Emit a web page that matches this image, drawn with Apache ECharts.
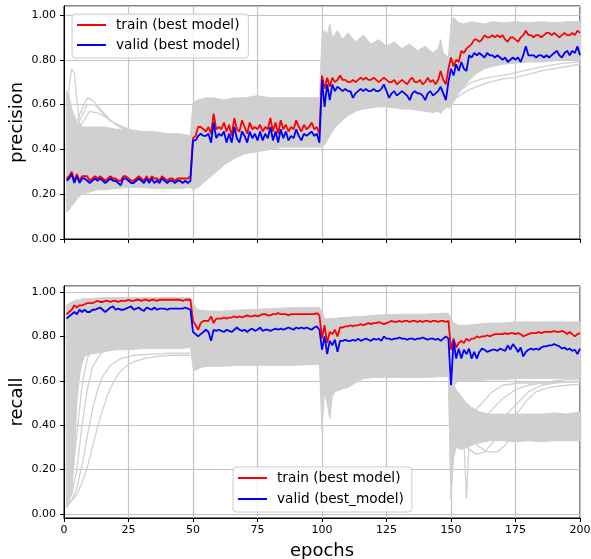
<!DOCTYPE html>
<html><head><meta charset="utf-8">
<script src="https://cdn.jsdelivr.net/npm/echarts@6/dist/echarts.min.js"></script>
<style>html,body{margin:0;padding:0;background:#fff}#c{width:591px;height:559px}</style>
</head><body><div id="c"></div>
<script>
// ---------- data (epochs 1..200) ----------
var precTrain = [
0.27,0.28,0.30,0.26,0.29,0.26,0.28,0.28,0.28,0.26,
0.27,0.28,0.27,0.28,0.27,0.26,0.27,0.28,0.27,0.27,
0.26,0.26,0.28,0.28,0.27,0.26,0.26,0.27,0.28,0.27,
0.26,0.28,0.26,0.28,0.27,0.27,0.26,0.28,0.27,0.26,
0.27,0.27,0.26,0.27,0.27,0.27,0.27,0.27,0.28,
0.45,0.46,0.50,0.50,0.49,0.48,0.50,0.47,0.56,0.49,
0.50,0.49,0.52,0.48,0.51,0.46,0.54,0.49,0.48,0.53,
0.50,0.47,0.52,0.49,0.50,0.49,0.51,0.48,0.50,0.49,
0.54,0.48,0.52,0.47,0.53,0.49,0.51,0.48,0.50,0.49,
0.53,0.50,0.48,0.51,0.49,0.50,0.52,0.49,0.50,0.47,
0.73,0.67,0.72,0.68,0.72,0.70,0.71,0.73,0.71,0.71,
0.70,0.70,0.71,0.70,0.71,0.72,0.71,0.72,0.71,0.71,
0.72,0.71,0.70,0.71,0.72,0.71,0.70,0.70,0.71,0.69,
0.70,0.71,0.70,0.69,0.71,0.72,0.70,0.70,0.71,0.69,
0.70,0.72,0.70,0.71,0.69,0.71,0.75,0.71,0.69,0.76,
0.81,0.77,0.80,0.79,0.84,0.83,0.85,0.86,0.87,0.89,
0.89,0.88,0.89,0.91,0.90,0.90,0.91,0.90,0.91,0.90,
0.91,0.89,0.88,0.90,0.90,0.89,0.88,0.90,0.91,0.93,
0.91,0.91,0.90,0.91,0.91,0.90,0.91,0.92,0.92,0.91,
0.92,0.91,0.90,0.91,0.92,0.91,0.91,0.92,0.91,0.93,
0.92];
var precValid = [
0.26,0.27,0.29,0.25,0.28,0.25,0.27,0.27,0.26,0.25,
0.26,0.27,0.26,0.27,0.26,0.25,0.26,0.27,0.26,0.26,
0.25,0.24,0.27,0.27,0.26,0.25,0.25,0.26,0.27,0.26,
0.25,0.27,0.25,0.27,0.25,0.26,0.25,0.27,0.26,0.25,
0.26,0.26,0.25,0.26,0.26,0.25,0.26,0.25,0.26,
0.44,0.44,0.46,0.47,0.46,0.46,0.47,0.43,0.52,0.45,
0.47,0.46,0.48,0.43,0.47,0.43,0.50,0.45,0.43,0.48,
0.46,0.43,0.48,0.45,0.47,0.44,0.48,0.44,0.47,0.45,
0.50,0.44,0.48,0.43,0.49,0.45,0.48,0.44,0.46,0.45,
0.49,0.46,0.44,0.47,0.46,0.47,0.48,0.46,0.47,0.43,
0.71,0.59,0.69,0.62,0.69,0.66,0.68,0.67,0.66,0.67,
0.66,0.66,0.63,0.65,0.66,0.67,0.66,0.67,0.66,0.66,
0.67,0.66,0.66,0.67,0.69,0.66,0.63,0.65,0.66,0.64,
0.65,0.66,0.65,0.64,0.62,0.65,0.66,0.65,0.65,0.64,
0.62,0.65,0.66,0.64,0.65,0.66,0.68,0.65,0.62,0.70,
0.76,0.73,0.78,0.75,0.79,0.76,0.75,0.82,0.81,0.83,
0.82,0.83,0.82,0.81,0.83,0.82,0.82,0.81,0.82,0.81,
0.80,0.81,0.79,0.80,0.81,0.80,0.81,0.79,0.82,0.86,
0.82,0.82,0.82,0.81,0.82,0.82,0.81,0.82,0.81,0.82,
0.83,0.84,0.82,0.81,0.83,0.84,0.82,0.84,0.83,0.86,
0.82];
var recTrain = [
0.90,0.91,0.92,0.94,0.93,0.94,0.94,0.945,0.95,0.95,
0.95,0.955,0.96,0.955,0.955,0.96,0.96,0.955,0.96,0.96,
0.955,0.96,0.96,0.96,0.965,0.96,0.96,0.965,0.965,0.96,
0.965,0.965,0.96,0.965,0.965,0.96,0.965,0.965,0.965,0.965,
0.965,0.965,0.965,0.965,0.965,0.96,0.965,0.965,0.965,
0.87,0.85,0.83,0.86,0.87,0.87,0.87,0.89,0.86,0.88,
0.88,0.88,0.885,0.88,0.885,0.885,0.89,0.885,0.89,0.885,
0.89,0.895,0.89,0.89,0.895,0.89,0.895,0.90,0.90,0.895,
0.895,0.90,0.90,0.905,0.90,0.90,0.90,0.895,0.90,0.90,
0.90,0.90,0.90,0.90,0.90,0.90,0.90,0.90,0.905,0.895,
0.79,0.85,0.77,0.82,0.81,0.83,0.80,0.84,0.84,0.845,
0.845,0.85,0.845,0.85,0.85,0.855,0.85,0.855,0.86,0.855,
0.86,0.86,0.865,0.86,0.855,0.86,0.865,0.87,0.865,0.865,
0.87,0.865,0.87,0.87,0.865,0.87,0.87,0.865,0.87,0.865,
0.87,0.87,0.865,0.87,0.87,0.865,0.87,0.87,0.865,0.87,
0.74,0.79,0.75,0.77,0.78,0.77,0.79,0.78,0.79,0.79,
0.80,0.795,0.80,0.80,0.805,0.80,0.805,0.81,0.81,0.81,
0.81,0.815,0.81,0.815,0.815,0.81,0.815,0.81,0.80,0.805,
0.81,0.815,0.815,0.815,0.82,0.815,0.82,0.82,0.82,0.82,
0.825,0.82,0.82,0.825,0.82,0.81,0.82,0.81,0.80,0.81,
0.815];
var recValid = [
0.88,0.89,0.90,0.91,0.90,0.92,0.91,0.92,0.91,0.91,
0.92,0.92,0.925,0.93,0.92,0.91,0.92,0.93,0.935,0.92,
0.925,0.92,0.92,0.925,0.93,0.935,0.92,0.925,0.93,0.92,
0.915,0.93,0.925,0.92,0.93,0.92,0.925,0.925,0.925,0.92,
0.925,0.925,0.925,0.925,0.925,0.925,0.93,0.925,0.92,
0.82,0.81,0.80,0.81,0.82,0.83,0.82,0.78,0.83,0.825,
0.83,0.825,0.82,0.83,0.825,0.82,0.83,0.84,0.83,0.825,
0.83,0.82,0.83,0.835,0.825,0.83,0.84,0.825,0.83,0.83,
0.825,0.83,0.835,0.83,0.835,0.83,0.835,0.84,0.835,0.83,
0.84,0.835,0.84,0.835,0.84,0.835,0.83,0.84,0.845,0.83,
0.74,0.80,0.72,0.78,0.76,0.785,0.73,0.78,0.78,0.785,
0.78,0.78,0.785,0.78,0.79,0.78,0.785,0.79,0.785,0.78,
0.79,0.785,0.79,0.78,0.80,0.79,0.79,0.785,0.79,0.79,
0.795,0.79,0.79,0.785,0.79,0.79,0.785,0.79,0.79,0.795,
0.79,0.785,0.79,0.79,0.785,0.79,0.78,0.79,0.80,0.79,
0.58,0.78,0.70,0.745,0.70,0.74,0.72,0.745,0.70,0.73,
0.70,0.73,0.745,0.74,0.73,0.735,0.74,0.74,0.735,0.745,
0.74,0.735,0.76,0.74,0.765,0.75,0.73,0.75,0.71,0.73,
0.74,0.745,0.74,0.745,0.74,0.75,0.755,0.755,0.76,0.76,
0.765,0.76,0.755,0.745,0.75,0.74,0.745,0.735,0.74,0.72,
0.745];

// grey envelope of all other models (epoch, lower, upper)
var precBandX  = [1,2,3,4,5,7,10,13,16,20,25,30,35,40,45,49, 50,52,55,58,62,66,70,75,80,85,90,95,99, 100,101,102,103,104,106,108,110,113,116,119,122,125,128,131,134,137,140,143,145,146,147,148,149, 150,151,153,155,158,160,163,166,170,175,180,185,190,195,200];
var precBandHi = [0.66,0.64,0.58,0.55,0.52,0.50,0.50,0.50,0.50,0.49,0.49,0.48,0.48,0.47,0.47,0.46, 0.61,0.62,0.63,0.63,0.62,0.63,0.63,0.64,0.63,0.63,0.63,0.63,0.63, 0.90,0.93,0.91,0.96,0.90,0.93,0.89,0.92,0.88,0.91,0.87,0.89,0.86,0.88,0.85,0.87,0.84,0.86,0.83,0.85,0.89,0.83,0.82,0.81, 0.96,0.99,0.965,0.96,0.97,0.965,0.96,0.97,0.965,0.97,0.965,0.97,0.965,0.97,0.97];
var precBandLo = [0.12,0.13,0.15,0.16,0.18,0.20,0.21,0.22,0.22,0.225,0.23,0.23,0.225,0.225,0.225,0.23, 0.22,0.23,0.26,0.29,0.33,0.36,0.38,0.39,0.40,0.41,0.41,0.41,0.41, 0.41,0.42,0.44,0.46,0.48,0.51,0.53,0.55,0.57,0.58,0.585,0.59,0.59,0.585,0.58,0.58,0.575,0.57,0.565,0.57,0.56,0.575,0.585,0.59, 0.60,0.62,0.65,0.68,0.72,0.74,0.76,0.77,0.78,0.785,0.79,0.79,0.795,0.80,0.80];
// individual grey precision curves
var precEarlyA = [[1,0.50],[2,0.68],[3,0.76],[4,0.74],[5,0.62],[6,0.52],[8,0.47]];
var precEarlyB = [[1,0.42],[4,0.50],[7,0.58],[9,0.63],[11,0.62],[14,0.58],[18,0.53],[22,0.50],[26,0.48]];
var precEarlyC = [[1,0.40],[5,0.50],[9,0.60],[12,0.60],[16,0.55],[20,0.51],[25,0.48]];
var precEarlyD = [[1,0.38],[6,0.50],[10,0.57],[14,0.56],[19,0.52],[25,0.49]];
var precLateA  = [[149,0.58],[152,0.63],[156,0.66],[160,0.68],[165,0.70],[170,0.715],[175,0.72],[180,0.735],[185,0.75],[190,0.76],[195,0.77],[200,0.78]];
var precLateB  = [[149,0.59],[153,0.66],[158,0.70],[164,0.72],[170,0.73],[176,0.745],[182,0.76],[188,0.775],[194,0.785],[200,0.79]];

var recBandX  = [1,2,3,4,5,6,7,8,10,15,20,25,30,35,40,45,49, 50,51,52,55,60,70,80,90,99, 100,101,102,103,104,105,107,110,113,116,120,130,140,149, 150,151,153,156,160,165,170,175,180,185,190,195,200];
var recBandHi = [0.94,0.95,0.955,0.96,0.965,0.965,0.97,0.97,0.97,0.975,0.975,0.975,0.975,0.975,0.975,0.975,0.975, 0.95,0.93,0.92,0.915,0.913,0.92,0.925,0.93,0.93, 0.91,0.88,0.88,0.88,0.88,0.88,0.885,0.885,0.89,0.89,0.895,0.90,0.90,0.905, 0.88,0.86,0.85,0.85,0.855,0.86,0.86,0.865,0.865,0.865,0.865,0.865,0.865];
var recBandLo = [0.03,0.05,0.10,0.25,0.50,0.62,0.68,0.71,0.72,0.73,0.74,0.74,0.745,0.745,0.745,0.745,0.75, 0.66,0.645,0.655,0.665,0.665,0.67,0.67,0.67,0.675, 0.38,0.55,0.50,0.43,0.53,0.55,0.56,0.57,0.59,0.61,0.615,0.615,0.615,0.62, 0.55,0.58,0.60,0.60,0.60,0.605,0.605,0.61,0.61,0.61,0.61,0.61,0.61];
var recLowX  = [149,150,151,152,154,156,158,161,165,170,175,180,185,190,195,200];
var recLowHi = [0.62,0.60,0.58,0.56,0.53,0.50,0.48,0.46,0.45,0.45,0.45,0.45,0.45,0.455,0.45,0.46];
var recLowLo = [0.62,0.10,0.25,0.30,0.29,0.30,0.31,0.32,0.33,0.33,0.325,0.33,0.325,0.33,0.33,0.33];
// individual grey recall curves
var recSlow1 = [[1,0.03],[3,0.06],[5,0.09],[7,0.14],[9,0.21],[11,0.30],[13,0.39],[15,0.47],[17,0.54],[19,0.59],[21,0.63],[24,0.665],[27,0.685],[31,0.70],[36,0.71],[42,0.715],[49,0.715]];
var recSlow2 = [[1,0.03],[3,0.06],[5,0.12],[7,0.22],[9,0.35],[11,0.47],[13,0.56],[15,0.62],[18,0.67],[22,0.70],[27,0.715],[34,0.72],[42,0.725],[49,0.725]];
var recSlow3 = [[1,0.04],[3,0.09],[5,0.20],[7,0.40],[9,0.56],[11,0.66],[14,0.72],[18,0.76],[24,0.78],[35,0.79],[49,0.79]];
var recSlow4 = [[1,0.05],[3,0.14],[5,0.36],[7,0.58],[9,0.70],[12,0.76],[18,0.79],[30,0.80],[49,0.80]];
var recSlow5 = [[1,0.08],[2,0.20],[3,0.40],[4,0.58],[5,0.68],[7,0.74],[10,0.77],[20,0.79],[49,0.80]];
var recDrop1 = [[149,0.65],[150,0.06],[151,0.35]];
var recDrop2 = [[154,0.38],[155,0.33],[156,0.07],[157,0.32],[158,0.36]];
var recDip1  = [[151,0.45],[154,0.35],[157,0.29],[160,0.27],[163,0.28],[166,0.32],[169,0.36],[172,0.40]];
var recDip2  = [[155,0.40],[160,0.31],[164,0.28],[168,0.28],[171,0.31],[174,0.36],[177,0.42]];
var recRise1 = [[160,0.40],[165,0.46],[170,0.52],[175,0.56],[180,0.58],[185,0.59],[190,0.60],[200,0.61]];
var recRise2 = [[165,0.38],[170,0.43],[175,0.49],[180,0.55],[185,0.58],[190,0.59],[200,0.60]];
var recRise3 = [[172,0.40],[176,0.46],[180,0.52],[183,0.55],[188,0.57],[195,0.58],[200,0.585]];
var recRise4 = [[158,0.45],[162,0.50],[166,0.55],[170,0.58],[176,0.59],[185,0.59],[200,0.595]];

var xTicks = [0,25,50,75,100,125,150,175,200];
var yTicks = [0,0.2,0.4,0.6,0.8,1.0];

// ---------- chart ----------
var GRAY = '#d0d0d0', GRID = '#c4c4c4', FONT = 'DejaVu Sans';
function pairs(vals){ return vals.map(function(v,i){ return [i+1, v]; }); }
function band(xs, lo, hi, gi){
  return {type:'custom', xAxisIndex:gi, yAxisIndex:gi, silent:true, animation:false,
    data:[[xs[0], hi[0]]],
    renderItem:function(params, api){
      var p = [], i;
      for (i = 0; i < xs.length; i++) p.push(api.coord([xs[i], hi[i]]));
      for (i = xs.length - 1; i >= 0; i--) p.push(api.coord([xs[i], lo[i]]));
      return {type:'polygon', shape:{points:p}, style:{fill:GRAY, stroke:GRAY, lineWidth:1}};
    }};
}
function gline(data, gi){
  return {type:'line', xAxisIndex:gi, yAxisIndex:gi, data:data, symbol:'none', silent:true,
    lineStyle:{color:GRAY, width:1.3}, itemStyle:{color:GRAY}};
}
function mline(name, vals, color, gi){
  return {name:name, type:'line', xAxisIndex:gi, yAxisIndex:gi, data:pairs(vals), symbol:'none', z:3,
    lineStyle:{color:color, width:1.8}, itemStyle:{color:color}};
}
function fmt(v){ return v.toFixed(2); }
function yAxisOpt(gi, min, max, name, extra){
  var o = {gridIndex:gi, type:'value', min:min, max:max,
    axisLine:{show:true, lineStyle:{color:'#000', width:1}},
    axisTick:{show:true, length:4, lineStyle:{color:'#000'}},
    axisLabel:{formatter:fmt, fontFamily:FONT, fontSize:11, color:'#000', margin:8, showMinLabel:gi===0, showMaxLabel:false},
    splitLine:{show:true, lineStyle:{color:GRID, width:1.2}},
    name:name, nameLocation:'middle', nameGap:38, nameMoveOverlap:false,
    nameTextStyle:{fontFamily:FONT, fontSize:18, color:'#000'}};
  for (var k in extra) o[k] = extra[k];
  return o;
}
function xAxisOpt(gi, labels){
  var o = {gridIndex:gi, type:'value', min:xTicks[0], max:xTicks[xTicks.length-1], interval:xTicks[1]-xTicks[0],
    axisLine:{show:true, onZero:false, lineStyle:{color:'#000', width:1}},
    axisTick:{show:true, length:4, lineStyle:{color:'#000'}},
    axisLabel:{show:labels, fontFamily:FONT, fontSize:11, color:'#000', margin:7},
    splitLine:{show:true, lineStyle:{color:GRID, width:1.2}}};
  if (labels){ o.name = 'epochs'; o.nameLocation = 'middle'; o.nameGap = 24;
    o.nameTextStyle = {fontFamily:FONT, fontSize:18, color:'#000'}; }
  return o;
}
var legendBase = {orient:'vertical', icon:'rect', itemWidth:29, itemHeight:2, selectedMode:false,
  backgroundColor:'rgba(255,255,255,0.8)', borderColor:'#cccccc', borderWidth:1, borderRadius:3,
  textStyle:{fontFamily:FONT, fontSize:13.7, color:'#000', lineHeight:16, padding:[0,0,0,5]}};
function legendOpt(names, left, top, gap){
  var o = {}; for (var k in legendBase) o[k] = legendBase[k];
  o.data = names; o.left = left; o.top = top; o.itemGap = gap; o.padding = [3,8,5,5];
  return o;
}

var option = {
  animation:false,
  backgroundColor:'#fff',
  grid:[
    {left:64, right:11, top:6, height:233, outerBoundsMode:'none', containLabel:false, show:true, borderColor:'#000', borderWidth:1, backgroundColor:'transparent'},
    {left:64, right:11, top:286, height:232, outerBoundsMode:'none', containLabel:false, show:true, borderColor:'#000', borderWidth:1, backgroundColor:'transparent'}
  ],
  xAxis:[xAxisOpt(0, false), xAxisOpt(1, true)],
  yAxis:[
    yAxisOpt(0, yTicks[0], 1.04, 'precision', {interval:yTicks[1]-yTicks[0]}),
    yAxisOpt(1, -0.018, 1.027, 'recall', {splitNumber:5})
  ],
  legend:[
    legendOpt(['train (best model)','valid (best model)'], 72, 14, 4),
    legendOpt(['train (best model)','valid (best_model)'], 233, 467, 5)
  ],
  series:[
    band(precBandX, precBandLo, precBandHi, 0),
    gline(precEarlyA,0), gline(precEarlyB,0), gline(precEarlyC,0), gline(precEarlyD,0),
    gline(precLateA,0), gline(precLateB,0),
    band(recBandX, recBandLo, recBandHi, 1),
    band(recLowX, recLowLo, recLowHi, 1),
    gline(recSlow1,1), gline(recSlow2,1), gline(recSlow3,1), gline(recSlow4,1), gline(recSlow5,1),
    gline(recDrop1,1), gline(recDrop2,1), gline(recDip1,1), gline(recDip2,1),
    gline(recRise1,1), gline(recRise2,1), gline(recRise3,1), gline(recRise4,1),
    mline('train (best model)', precTrain, '#ff0000', 0),
    mline('valid (best model)', precValid, '#0000ff', 0),
    mline('train (best model)', recTrain, '#ff0000', 1),
    mline('valid (best_model)', recValid, '#0000ff', 1)
  ]
};
var chart = echarts.init(document.getElementById('c'));
chart.setOption(option);
</script></body></html>
